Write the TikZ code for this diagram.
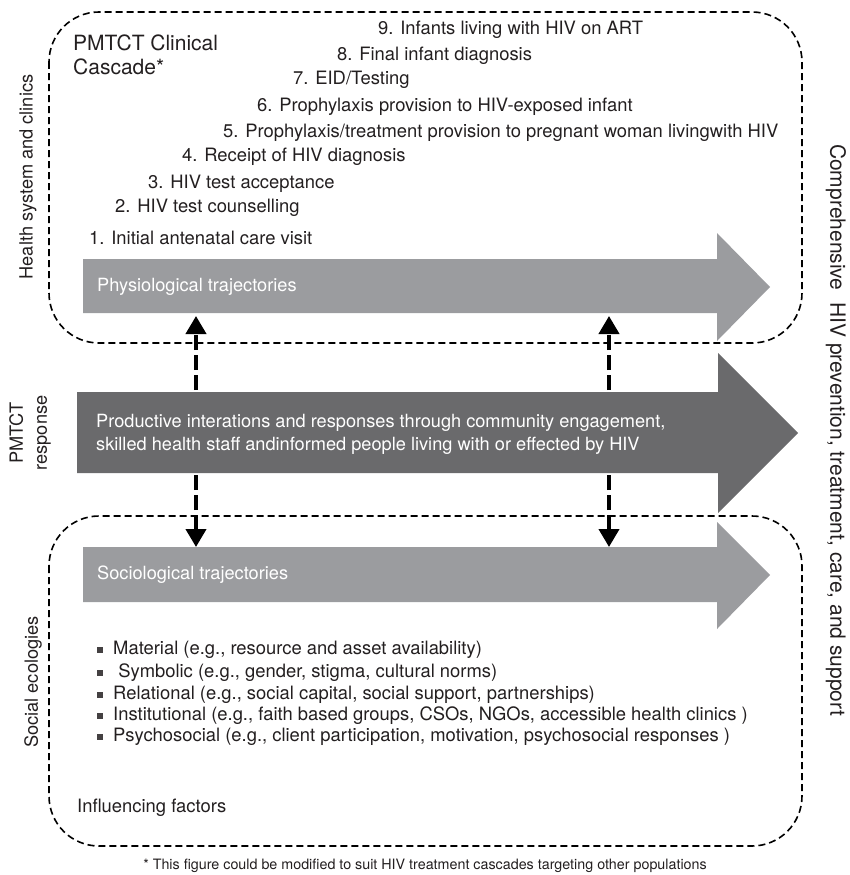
\documentclass[tikz,border=0pt]{standalone}
\usepackage{fontspec}
\setmainfont{TeX Gyre Heros}
\usetikzlibrary{arrows.meta}
\definecolor{LightArrow}{RGB}{155,156,159}
\definecolor{DarkArrow}{RGB}{106,106,108}
\definecolor{TextGray}{RGB}{35,31,32}
\newcommand{\factorbox}{\textcolor{TextGray!85}{\rule[1.5pt]{6pt}{6pt}}\hspace{10pt}}
\tikzset{
  zone/.style={draw=black, line width=1.6pt, dash pattern=on 7pt off 4pt, rounded corners=50pt},
  link/.style={line width=4pt, dash pattern=on 15pt off 5pt,
    {Triangle[width=20pt,length=18pt]}-{Triangle[width=20pt,length=18pt]}},
  steptext/.style={anchor=west, inner sep=0pt, text=TextGray, font=\fontsize{18.4}{21}\selectfont},
  arrowtext/.style={anchor=west, inner sep=0pt, text=white, align=left, font=\fontsize{18.2}{23}\selectfont},
  sidetext/.style={inner sep=0pt, text=TextGray, align=center, font=\fontsize{18.2}{24}\selectfont},
}
\begin{document}
\begin{tikzpicture}[x=1pt,y=-1pt]
       \useasboundingbox (0,0) rectangle (849,875);
       % dashed zones
       \draw[zone] (49,12) rectangle (802,343);
       \draw[zone] (49,516) rectangle (802,846);
       % trajectory arrows
       \fill[LightArrow] (83,259) -- (717,259) -- (717,233) -- (770,287) -- (717,341) -- (717,313) -- (83,313) -- cycle;
       \fill[LightArrow] (83,547) -- (717,547) -- (717,522) -- (770,575) -- (717,629) -- (717,602) -- (83,602) -- cycle;
       \coordinate(LeftTop)at(196,316);
       \coordinate(LeftBottom)at(196,547);
       \coordinate(RightTop)at(609,316);
       \coordinate(RightBottom)at(609,547);
       \draw[link] (LeftBottom) -- (LeftTop);
       \draw[link] (RightBottom) -- (RightTop);
       \fill[DarkArrow] (77,392) -- (718,392) -- (718,353) -- (798,433) -- (718,513) -- (718,473) -- (77,473) -- cycle;
       % cascade
       \node[steptext, font=\fontsize{21}{24}\selectfont, align=left] (CascadeTitle) at (73,55) {PMTCT Clinical\\Cascade*};
       \node[steptext] (StepNine) at (378,30) {9. Infants living with HIV on ART};
       \node[steptext] (StepEight) at (337,56) {8. Final infant diagnosis};
       \node[steptext] (StepSeven) at (293,80) {7. EID/Testing};
       \node[steptext] (StepSix) at (257,107) {6. Prophylaxis provision to HIV-exposed infant};
       \node[steptext] (StepFive) at (223,133) {5. Prophylaxis/treatment provision to pregnant woman livingwith HIV};
       \node[steptext] (StepFour) at (182,157) {4. Receipt of HIV diagnosis};
       \node[steptext] (StepThree) at (148,184) {3. HIV test acceptance};
       \node[steptext] (StepTwo) at (115,208) {2. HIV test counselling};
       \node[steptext] (StepOne) at (89,238) {1. Initial antenatal care visit};
       \node[arrowtext] (Physio) at (97,287) {Physiological trajectories};
       \node[arrowtext] (Response) at (96,434) {Productive interations and responses through community engagement,\\skilled health staff andinformed people living with or effected by HIV};
       \node[arrowtext] (Socio) at (97,575) {Sociological trajectories};
       % influencing factors
       \node[steptext] (Material) at (97,650) {\factorbox Material (e.g., resource and asset availability)};
       \node[steptext] (Symbolic) at (97,673) {\factorbox\ Symbolic (e.g., gender, stigma, cultural norms)};
       \node[steptext] (Relational) at (97,695) {\factorbox Relational (e.g., social capital, social support, partnerships)};
       \node[steptext] (Institutional) at (97,716) {\factorbox Institutional (e.g., faith based groups, CSOs, NGOs, accessible health clinics )};
       \node[steptext] (Psychosocial) at (97,737) {\factorbox Psychosocial (e.g., client participation, motivation, psychosocial responses )};
       \node[steptext] (Influencing) at (77,808) {Influencing factors};
       % side labels
       \node[sidetext, rotate=90] (HealthLabel) at (28,177) {Health system and clinics};
       \node[sidetext, rotate=90] (ResponseLabel) at (30,433) {PMTCT\\response};
       \node[sidetext, rotate=90] (SocialLabel) at (33,682) {Social ecologies};
       \node[sidetext, rotate=-90, font=\fontsize{21}{24}\selectfont] (CareLabel) at (836,430) {Comprehensive\ \ HIV prevention, treatment, care, and support};
       \node[sidetext, font=\fontsize{14.3}{16}\selectfont] (Footnote) at (425,866) {* This figure could be modified to suit HIV treatment cascades targeting other populations};
      \end{tikzpicture}
\end{document}
